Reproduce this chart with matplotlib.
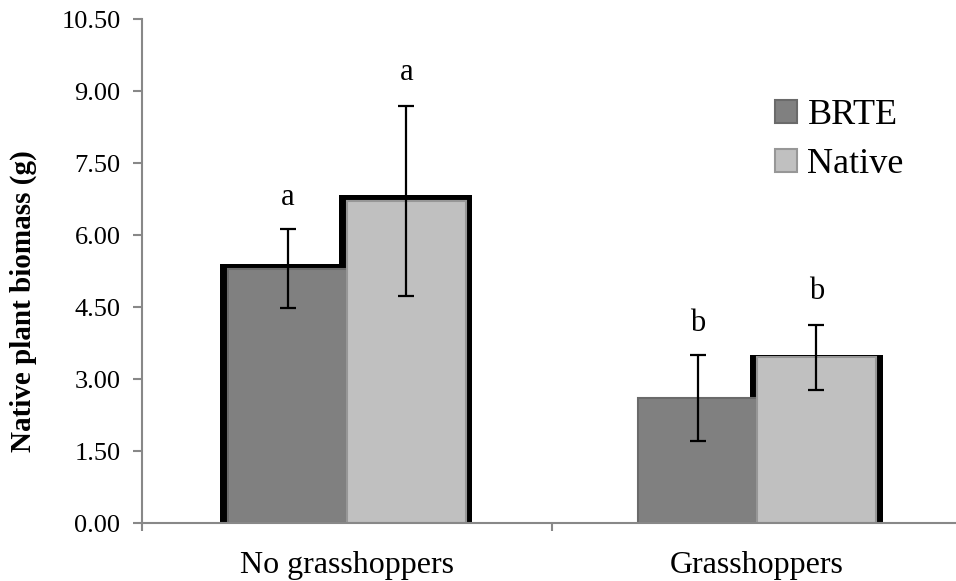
import matplotlib.pyplot as plt
import numpy as np

# data
groups = ['No grasshoppers', 'Grasshoppers']
series = ['BRTE', 'Native']
brte = [5.30, 2.60]
native = [6.70, 3.45]
brte_err = [0.83, 0.90]
native_err = [1.98, 0.67]
brte_letters = ['a', 'b']
native_letters = ['a', 'b']
yticks = [0, 1.5, 3, 4.5, 6, 7.5, 9, 10.5]

plt.rcParams['font.family'] = ['Liberation Serif', 'DejaVu Serif']

fig = plt.figure(figsize=(9.56, 5.81), dpi=100)
ax = fig.add_axes([142/956, 58/581, 820/956, 504/581])

x = np.arange(len(groups))
w = 0.29
px_x = 1 / 410.0   # data units per pixel, x
px_y = 1 / 48.0    # data units per pixel, y

# black shadow behind bars, as in the original (left, top, right in px)
brte_shadow = [(8, 5, 0), None]
native_shadow = [(8, 6, 6), (7, 2, 7)]
for i in range(len(groups)):
    for xs, val, sh in [(x[i] - w, brte[i], brte_shadow[i]), (x[i], native[i], native_shadow[i])]:
        if sh is None:
            continue
        l, t, r = sh
        ax.bar(xs - l * px_x, val + t * px_y, w + (l + r) * px_x, align='edge',
               color='black', linewidth=0, zorder=1)

ax.bar(x - w/2, brte, w, color='#808080', edgecolor='#6a6a6a', linewidth=1.5, zorder=2, label=series[0])
ax.bar(x + w/2, native, w, color='#c0c0c0', edgecolor='#979797', linewidth=1.5, zorder=2, label=series[1])

ax.errorbar(x - w/2, brte, yerr=brte_err, fmt='none', ecolor='black', elinewidth=1.6, capsize=5.5, capthick=1.6, zorder=3)
ax.errorbar(x + w/2, native, yerr=native_err, fmt='none', ecolor='black', elinewidth=1.6, capsize=5.5, capthick=1.6, zorder=3)

for i in range(len(groups)):
    ax.text(x[i] - w/2, brte[i] + brte_err[i] + 0.5, brte_letters[i], ha='center', va='baseline', fontsize=22)
    ax.text(x[i] + w/2, native[i] + native_err[i] + 0.55, native_letters[i], ha='center', va='baseline', fontsize=22)

ax.set_xlim(-0.5, 1.5)
ax.set_ylim(0, 10.5)
ax.set_yticks(yticks)
ax.set_yticklabels(['%.2f' % v for v in yticks], fontsize=19)
ax.set_xticks([-0.5, 0.5, 1.5])
ax.set_xticklabels([])
ax.set_xticks(x, minor=True)
ax.set_xticklabels(groups, minor=True, fontsize=23)
ax.tick_params(axis='x', which='minor', length=0, pad=20)
ax.tick_params(axis='x', which='major', length=6, direction='out', color='#888888', width=1.5)
ax.tick_params(axis='y', length=6.5, direction='out', color='#888888', width=1.5, pad=9)

for s in ['top', 'right']:
    ax.spines[s].set_visible(False)
for s in ['left', 'bottom']:
    ax.spines[s].set_color('#888888')
    ax.spines[s].set_linewidth(1.5)
    ax.spines[s].set_zorder(4)

ax.set_ylabel('Native plant biomass (g)', fontsize=21, fontweight='bold')
ax.yaxis.set_label_coords(-0.128, 0.44)

leg = ax.legend(loc='upper left', bbox_to_anchor=(775/956, 1 - 99/581), bbox_transform=fig.transFigure,
                frameon=False, fontsize=26, borderpad=0, borderaxespad=0,
                handlelength=0.6, handleheight=0.6, handletextpad=0.3, labelspacing=0.45)

plt.savefig('out.png', dpi=100)
